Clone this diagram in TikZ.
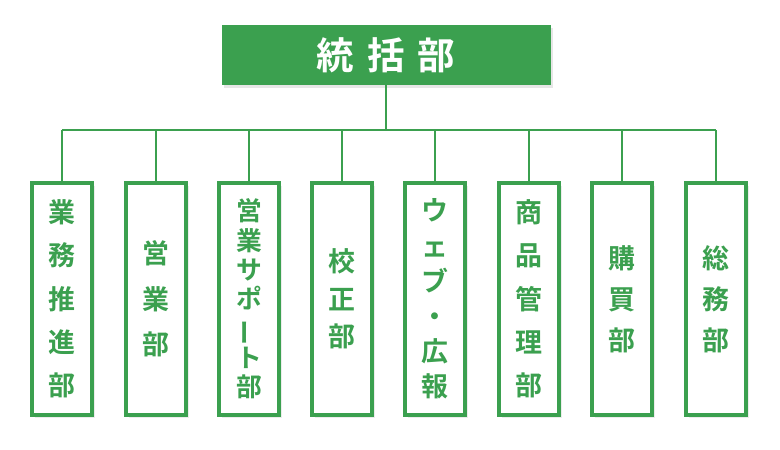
\documentclass[tikz,border=0pt]{standalone}
\usepackage{fontspec}
\newfontfamily\jp{Noto Sans CJK JP}[BoldFont={* Bold}]
\usetikzlibrary{positioning,shadows}
\definecolor{orggreen}{HTML}{3BA04F}
\newcommand{\vbar}{\rotatebox[origin=c]{90}{ー}}
\begin{document}
\begin{tikzpicture}[x=0.03cm,y=-0.03cm,
        head/.style={rectangle,fill=orggreen,text=white,minimum width=329*0.03cm,minimum height=60*0.03cm,
            font=\jp\bfseries\fontsize{32}{34}\selectfont,drop shadow={opacity=0.2}},
        dept/.style={rectangle,draw=orggreen,line width=2.6pt,fill=white,text=orggreen,align=center,
            minimum width=60*0.03cm,minimum height=232*0.03cm,inner sep=0pt,drop shadow={opacity=0.15}},
        link/.style={orggreen,line width=1.3pt}
        ]
        \useasboundingbox (0,0) rectangle (780,450);
        \node (top) [head] at (386,55) {統\hspace{0.35em}括\hspace{0.35em}部};
        \coordinate (hub) at (386,130);
        \node (d1) [dept,font=\jp\bfseries\fontsize{23}{37}\selectfont] at (62,299) {業\\務\\推\\進\\部};
        \node (d2) [dept,font=\jp\bfseries\fontsize{23}{39}\selectfont] at (156,299) {営\\業\\部};
        \node (d3) [dept,font=\jp\bfseries\fontsize{22}{25}\selectfont] at (249,299) {営\\業\\サ\\ポ\\\vbar\\ト\\部};
        \node (d4) [dept,font=\jp\bfseries\fontsize{23}{32}\selectfont] at (342,299) {校\\正\\部};
        \node (d5) [dept,font=\jp\bfseries\fontsize{23}{30}\selectfont] at (435,299) {ウ\\ェ\\ブ\\・\\広\\報};
        \node (d6) [dept,font=\jp\bfseries\fontsize{23}{37}\selectfont] at (529,299) {商\\品\\管\\理\\部};
        \node (d7) [dept,font=\jp\bfseries\fontsize{23}{35}\selectfont] at (622,299) {購\\買\\部};
        \node (d8) [dept,font=\jp\bfseries\fontsize{23}{35}\selectfont] at (716,299) {総\\務\\部};
        \draw[link] (top) -- (hub);
        \draw[link] (d1.north |- hub) -- (d8.north |- hub);
        \foreach \d in {d1,d2,d3,d4,d5,d6,d7,d8}
            \draw[link] (\d.north |- hub) -- (\d.north);
\end{tikzpicture}
\end{document}
